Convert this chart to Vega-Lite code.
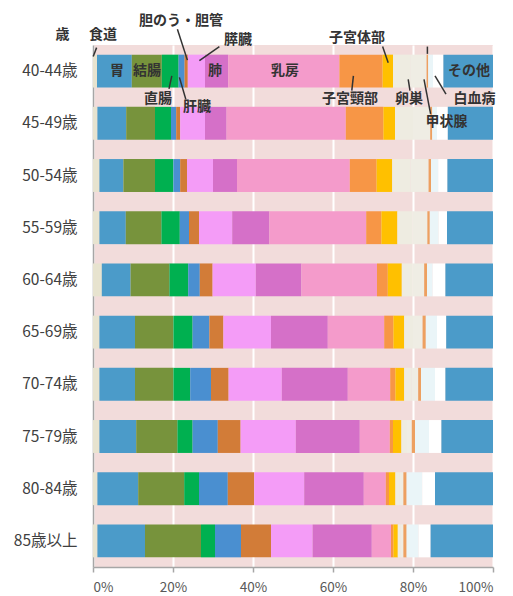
{
  "$schema": "https://vega.github.io/schema/vega-lite/v6.json",
  "width": 400,
  "height": 522,
  "autosize": {"type": "none"},
  "padding": {"left": 93, "top": 45, "right": 20, "bottom": 29},
  "background": "white",
  "config": {
    "view": {"stroke": null, "fill": "#f2dcdb"},
    "font": "Noto Sans CJK JP"
  },
  "datasets": {
    "wide": [
      {"age": "40-44歳", "食道": 1.0, "胃": 8.7, "結腸": 7.5, "直腸": 4.2, "肝臓": 1.5, "胆のう・胆管": 0.8, "膵臓": 4.3, "肺": 5.8, "乳房": 27.8, "子宮頸部": 10.8, "子宮体部": 2.6, "卵巣": 4.3, "甲状腺": 4.1, "膀胱": 0.4, "悪性リンパ腫": 1.2, "白血病": 2.6, "その他": 12.4},
      {"age": "45-49歳", "食道": 1.1, "胃": 7.2, "結腸": 7.2, "直腸": 4.0, "肝臓": 1.3, "胆のう・胆管": 1.0, "膵臓": 6.2, "肺": 5.4, "乳房": 29.8, "子宮頸部": 9.4, "子宮体部": 2.9, "卵巣": 4.5, "甲状腺": 4.3, "膀胱": 0.5, "悪性リンパ腫": 1.2, "白血病": 2.7, "その他": 11.3},
      {"age": "50-54歳", "食道": 1.6, "胃": 6.0, "結腸": 7.9, "直腸": 4.6, "肝臓": 1.7, "胆のう・胆管": 1.7, "膵臓": 6.5, "肺": 6.0, "乳房": 28.2, "子宮頸部": 6.7, "子宮体部": 3.9, "卵巣": 4.6, "甲状腺": 4.5, "膀胱": 0.6, "悪性リンパ腫": 1.8, "白血病": 2.3, "その他": 11.4},
      {"age": "55-59歳", "食道": 1.6, "胃": 6.6, "結腸": 8.9, "直腸": 4.6, "肝臓": 2.3, "胆のう・胆管": 2.5, "膵臓": 8.3, "肺": 9.3, "乳房": 24.2, "子宮頸部": 3.8, "子宮体部": 4.0, "卵巣": 3.8, "甲状腺": 3.7, "膀胱": 0.6, "悪性リンパ腫": 2.2, "白血病": 2.1, "その他": 11.5},
      {"age": "60-64歳", "食道": 2.2, "胃": 7.2, "結腸": 9.7, "直腸": 4.7, "肝臓": 2.9, "胆のう・胆管": 3.2, "膵臓": 10.8, "肺": 11.4, "乳房": 18.9, "子宮頸部": 2.7, "子宮体部": 3.5, "卵巣": 2.7, "甲状腺": 2.9, "膀胱": 0.7, "悪性リンパ腫": 1.4, "白血病": 3.2, "その他": 11.9},
      {"age": "65-69歳", "食道": 1.6, "胃": 8.9, "結腸": 9.6, "直腸": 4.8, "肝臓": 4.2, "胆のう・胆管": 3.5, "膵臓": 11.9, "肺": 14.2, "乳房": 14.1, "子宮頸部": 2.3, "子宮体部": 2.7, "卵巣": 2.2, "甲状腺": 2.4, "膀胱": 0.8, "悪性リンパ腫": 2.8, "白血病": 2.3, "その他": 11.7},
      {"age": "70-74歳", "食道": 1.6, "胃": 8.9, "結腸": 9.6, "直腸": 4.2, "肝臓": 5.2, "胆のう・胆管": 4.4, "膵臓": 13.3, "肺": 16.5, "乳房": 10.6, "子宮頸部": 1.3, "子宮体部": 2.2, "卵巣": 1.8, "甲状腺": 1.7, "膀胱": 0.7, "悪性リンパ腫": 3.5, "白血病": 2.6, "その他": 11.9},
      {"age": "75-79歳", "食道": 1.6, "胃": 9.2, "結腸": 10.3, "直腸": 3.8, "肝臓": 6.3, "胆のう・胆管": 5.7, "膵臓": 13.8, "肺": 16.0, "乳房": 7.5, "子宮頸部": 0.8, "子宮体部": 2.1, "卵巣": 1.4, "甲状腺": 1.2, "膀胱": 0.8, "悪性リンパ腫": 3.5, "白血病": 3.1, "その他": 12.9},
      {"age": "80-84歳", "食道": 1.1, "胃": 10.2, "結腸": 11.5, "直腸": 3.7, "肝臓": 7.2, "胆のう・胆管": 6.6, "膵臓": 12.5, "肺": 14.9, "乳房": 5.5, "子宮頸部": 0.8, "子宮体部": 1.6, "卵巣": 1.0, "甲状腺": 1.0, "膀胱": 0.8, "悪性リンパ腫": 3.9, "白血病": 3.2, "その他": 14.5},
      {"age": "85歳以上", "食道": 1.1, "胃": 11.9, "結腸": 14.0, "直腸": 3.5, "肝臓": 6.5, "胆のう・胆管": 7.5, "膵臓": 10.4, "肺": 14.8, "乳房": 4.8, "子宮頸部": 0.6, "子宮体部": 1.1, "卵巣": 0.7, "甲状腺": 0.7, "膀胱": 0.8, "悪性リンパ腫": 3.0, "白血病": 3.0, "その他": 15.6}
    ],
    "sites": [
      {"site": "食道", "idx": 1}, {"site": "胃", "idx": 2}, {"site": "結腸", "idx": 3}, {"site": "直腸", "idx": 4},
      {"site": "肝臓", "idx": 5}, {"site": "胆のう・胆管", "idx": 6}, {"site": "膵臓", "idx": 7}, {"site": "肺", "idx": 8},
      {"site": "乳房", "idx": 9}, {"site": "子宮頸部", "idx": 10}, {"site": "子宮体部", "idx": 11}, {"site": "卵巣", "idx": 12},
      {"site": "甲状腺", "idx": 13}, {"site": "膀胱", "idx": 14}, {"site": "悪性リンパ腫", "idx": 15}, {"site": "白血病", "idx": 16},
      {"site": "その他", "idx": 17}
    ],
    "labels": [
      {"t": "歳", "x": -0.076, "y": -0.19},
      {"t": "食道", "x": 0.025, "y": -0.19},
      {"t": "胆のう・胆管", "x": 0.22, "y": -0.46},
      {"t": "膵臓", "x": 0.3625, "y": -0.1},
      {"t": "子宮体部", "x": 0.66, "y": -0.125},
      {"t": "胃", "x": 0.06, "y": 0.5},
      {"t": "結腸", "x": 0.135, "y": 0.5},
      {"t": "肺", "x": 0.305, "y": 0.5},
      {"t": "乳房", "x": 0.48, "y": 0.5},
      {"t": "その他", "x": 0.94, "y": 0.5},
      {"t": "直腸", "x": 0.1625, "y": 1.03},
      {"t": "肝臓", "x": 0.26, "y": 1.18},
      {"t": "子宮頸部", "x": 0.6425, "y": 1.04},
      {"t": "卵巣", "x": 0.79, "y": 1.04},
      {"t": "白血病", "x": 0.954, "y": 1.04},
      {"t": "甲状腺", "x": 0.884, "y": 1.475}
    ],
    "leaders": [
      {"x": 0.009, "x2": 0.0005, "y": 0.05, "y2": 0.22},
      {"x": 0.211, "x2": 0.236, "y": -0.3, "y2": 0.29},
      {"x": 0.316, "x2": 0.266, "y": 0.03, "y2": 0.3},
      {"x": 0.724, "x2": 0.738, "y": 0.03, "y2": 0.34},
      {"x": 0.19, "x2": 0.197, "y": 0.84, "y2": 0.59},
      {"x": 0.232, "x2": 0.216, "y": 1.04, "y2": 0.62},
      {"x": 0.647, "x2": 0.651, "y": 0.875, "y2": 0.59},
      {"x": 0.7925, "x2": 0.788, "y": 0.875, "y2": 0.66},
      {"x": 0.8825, "x2": 0.855, "y": 0.94, "y2": 0.59},
      {"x": 0.844, "x2": 0.8275, "y": 1.32, "y2": 0.66},
      {"x": 0.836, "x2": 0.836, "y": 0.03, "y2": 0.17}
    ]
  },
  "layer": [
    {
      "data": {"name": "wide"},
      "transform": [
        {"fold": ["食道", "胃", "結腸", "直腸", "肝臓", "胆のう・胆管", "膵臓", "肺", "乳房", "子宮頸部", "子宮体部", "卵巣", "甲状腺", "膀胱", "悪性リンパ腫", "白血病", "その他"], "as": ["site", "v"]},
        {"lookup": "site", "from": {"data": {"name": "sites"}, "key": "site", "fields": ["idx"]}}
      ],
      "mark": {"type": "bar"},
      "encoding": {
        "y": {
          "field": "age", "type": "nominal",
          "sort": ["40-44歳", "45-49歳", "50-54歳", "55-59歳", "60-64歳", "65-69歳", "70-74歳", "75-79歳", "80-84歳", "85歳以上"],
          "scale": {"paddingInner": 0.37, "paddingOuter": 0.185},
          "title": null,
          "axis": {"ticks": false, "labelPadding": 16, "labelFontSize": 15.5, "labelColor": "#404040", "domainColor": "#a6a6a6", "domainWidth": 1.5, "grid": false, "labelFont": "Noto Sans CJK JP"}
        },
        "x": {
          "field": "v", "type": "quantitative", "stack": "normalize",
          "scale": {"domain": [0, 1], "nice": false},
          "title": null,
          "axis": {"format": "%", "values": [0, 0.2, 0.4, 0.6, 0.8, 1], "grid": true, "gridColor": "#ffffff", "gridWidth": 2, "gridOpacity": 1, "domainColor": "#a6a6a6", "domainWidth": 1.5, "tickColor": "#a6a6a6", "tickSize": 5, "tickWidth": 1.5, "labelPadding": 8, "labelFontSize": 13.5, "labelColor": "#595959"}
        },
        "color": {
          "field": "site", "type": "nominal", "legend": null,
          "scale": {
            "domain": ["食道", "胃", "結腸", "直腸", "肝臓", "胆のう・胆管", "膵臓", "肺", "乳房", "子宮頸部", "子宮体部", "卵巣", "甲状腺", "膀胱", "悪性リンパ腫", "白血病", "その他"],
            "range": ["#e7e3cf", "#4b9bc9", "#77933c", "#00b050", "#4a8fd0", "#d27c38", "#f49cf7", "#d570c8", "#f49bcb", "#f79646", "#ffc000", "#eeece1", "#efede4", "#eda060", "#eaf5f8", "#ffffff", "#4b9bc9"]
          }
        },
        "order": {"field": "idx", "type": "quantitative"}
      }
    },
    {
      "data": {"name": "leaders"},
      "mark": {"type": "rule", "color": "#333333", "strokeWidth": 1.5},
      "encoding": {
        "x": {"field": "x", "type": "quantitative", "scale": {"domain": [0, 1], "nice": false}, "title": null, "axis": {"format": "%", "values": [0, 0.2, 0.4, 0.6, 0.8, 1], "grid": true, "gridColor": "#ffffff", "gridWidth": 2, "gridOpacity": 1, "domainColor": "#a6a6a6", "domainWidth": 1.5, "tickColor": "#a6a6a6", "tickSize": 5, "tickWidth": 1.5, "labelPadding": 8, "labelFontSize": 13.5, "labelColor": "#595959"}},
        "x2": {"field": "x2"},
        "y": {"field": "y", "type": "quantitative", "scale": {"domain": [0, 10], "nice": false, "zero": false, "reverse": true}, "axis": null},
        "y2": {"field": "y2"}
      }
    },
    {
      "data": {"name": "labels"},
      "mark": {"type": "text", "font": "Noto Sans CJK JP", "fontSize": 14, "fontWeight": "bold", "color": "#333333", "align": "center", "baseline": "middle"},
      "encoding": {
        "x": {"field": "x", "type": "quantitative", "scale": {"domain": [0, 1], "nice": false}, "title": null, "axis": {"format": "%", "values": [0, 0.2, 0.4, 0.6, 0.8, 1], "grid": true, "gridColor": "#ffffff", "gridWidth": 2, "gridOpacity": 1, "domainColor": "#a6a6a6", "domainWidth": 1.5, "tickColor": "#a6a6a6", "tickSize": 5, "tickWidth": 1.5, "labelPadding": 8, "labelFontSize": 13.5, "labelColor": "#595959"}},
        "y": {"field": "y", "type": "quantitative", "scale": {"domain": [0, 10], "nice": false, "zero": false, "reverse": true}, "axis": null},
        "text": {"field": "t"}
      }
    }
  ],
  "resolve": {"scale": {"y": "independent"}}
}
